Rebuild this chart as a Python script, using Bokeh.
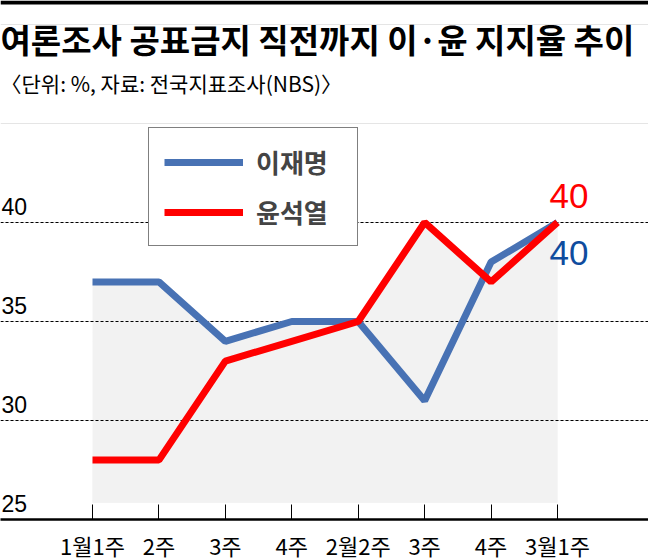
from bokeh.plotting import figure
from bokeh.models import FixedTicker, Label, Legend, LegendItem, BoxAnnotation, Range1d
from bokeh.core.properties import value
from bokeh.embed import file_html
from bokeh.resources import INLINE

weeks = ["1월1주", "2주", "3주", "4주", "2월2주", "3주", "4주", "3월1주"]
lee = [37, 37, 34, 35, 35, 31, 38, 40]
yoon = [28, 28, 33, 34, 35, 40, 37, 40]
y_ticks = [25, 30, 35, 40]
grid_ticks = [30, 35, 40]

xs = list(range(len(weeks)))

KR = "Noto Sans CJK KR"
NUM = "Liberation Sans"
BLUE = "#4872b4"
RED = "#ff0000"
SHADE = "#f2f2f2"

X0, X1 = -1.385, 8.37
Y0, Y1 = 25, 51.21
FRAME_H = 519

p = figure(
    frame_width=648, frame_height=FRAME_H,
    x_range=Range1d(X0, X1), y_range=Range1d(Y0, Y1),
    output_backend="svg", toolbar_location=None,
    y_axis_location=None, min_border=0,
    outline_line_color=None,
)
p.xgrid.visible = False

# x axis: ticks inside, labels below
p.xaxis.ticker = FixedTicker(ticks=xs)
p.xaxis.major_label_overrides = {i: w for i, w in enumerate(weeks)}
p.xaxis.major_tick_in = 15
p.xaxis.major_tick_out = 0
p.xaxis.minor_tick_in = 0
p.xaxis.minor_tick_out = 0
p.xaxis.axis_line_width = 2.5
p.xaxis.axis_line_color = "black"
p.xaxis.major_tick_line_color = "black"
p.xaxis.major_label_text_font = KR
p.xaxis.major_label_text_font_size = "22px"
p.xaxis.major_label_text_color = "black"
p.xaxis.major_label_standoff = 9

# shaded area: union of the areas under both lines
p.varea(x=xs, y1=25.85, y2=lee, fill_color=SHADE)
p.varea(x=xs, y1=25.85, y2=yoon, fill_color=SHADE)

# dashed gridlines
p.hspan(y=grid_ticks, line_color="black", line_width=1, line_dash="3 2")

r_lee = p.line(xs, lee, line_color=BLUE, line_width=7)
r_yoon = p.line(xs, yoon, line_color=RED, line_width=7)

# y tick labels sit above the gridlines
p.text(x=[X0] * len(y_ticks), y=y_ticks, text=[str(v) for v in y_ticks],
       text_font=value(NUM), text_font_size="23px", text_color="black",
       text_baseline="alphabetic", x_offset=1, y_offset=-16)

# end values
p.text(x=[xs[-1]], y=[yoon[-1]], text=[str(yoon[-1])],
       text_font=value(NUM), text_font_size="35px", text_color=RED,
       text_baseline="alphabetic", x_offset=-8, y_offset=-26)
p.text(x=[xs[-1]], y=[lee[-1]], text=[str(lee[-1])],
       text_font=value(NUM), text_font_size="35px", text_color="#0f4c9e",
       text_baseline="alphabetic", x_offset=-8, y_offset=31)

legend = Legend(
    items=[LegendItem(label="이재명", renderers=[r_lee]),
           LegendItem(label="윤석열", renderers=[r_yoon])],
    location=(148, FRAME_H - 246),
    border_line_color="black", border_line_width=1.5,
    background_fill_color="white", background_fill_alpha=1,
    padding=15, spacing=13, margin=0,
    glyph_width=79, glyph_height=30,
    label_height=30, label_width=86, label_standoff=13,
    label_text_font=KR, label_text_font_style="bold",
    label_text_font_size="26px",
)
p.add_layout(legend)

# top black rule
p.add_layout(BoxAnnotation(bottom=Y1 - 4 / 19.8, top=Y1, fill_color="black",
                           fill_alpha=1, line_color=None))

p.add_layout(Label(x=0, y=FRAME_H - 38, x_units="screen", y_units="screen",
                   text="여론조사 공표금지 직전까지 이·윤 지지율 추이",
                   text_font=KR, text_font_style="bold", text_font_size="33px",
                   text_color="black", text_baseline="alphabetic"))
p.add_layout(Label(x=0, y=FRAME_H - 82, x_units="screen", y_units="screen",
                   text="〈단위: %, 자료: 전국지표조사(NBS)〉",
                   text_font=KR, text_font_size="21px",
                   text_color="black", text_baseline="alphabetic"))

open("out.html", "w", encoding="utf-8").write(file_html(p, INLINE))
